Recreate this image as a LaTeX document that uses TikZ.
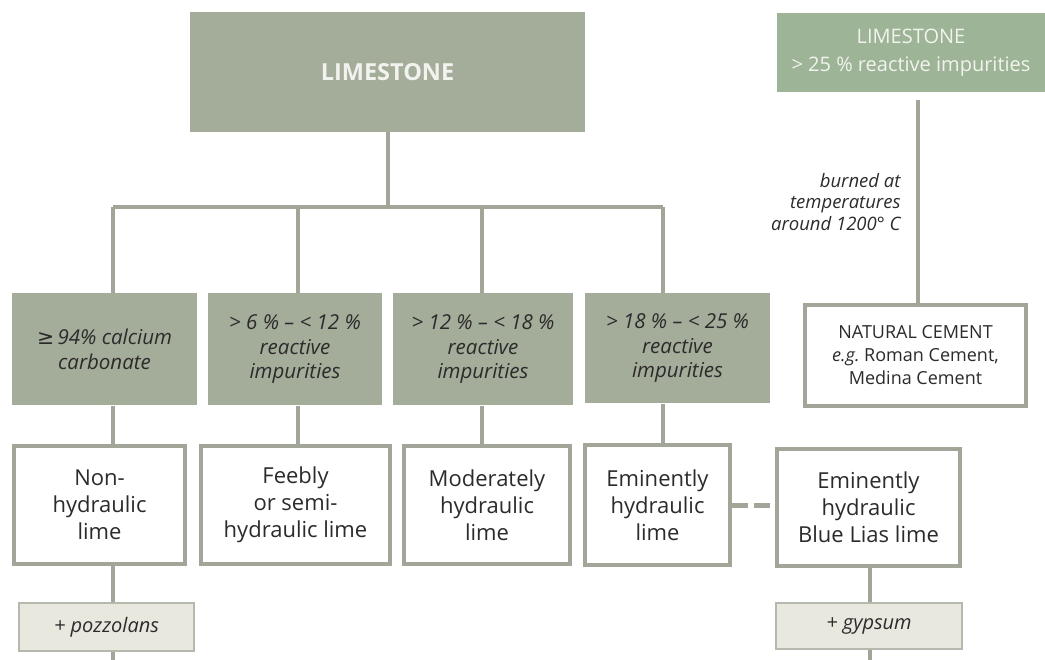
\documentclass[tikz,border=0pt]{standalone}
\usepackage{fontspec}
\setmainfont{Open Sans}
\newfontfamily\symf{DejaVu Sans}
\definecolor{boxgray}{HTML}{A4AC9A}
\definecolor{boxgreen}{HTML}{9DB497}
\definecolor{linec}{HTML}{A2A699}
\definecolor{pale}{HTML}{E8E8DF}
\definecolor{txt}{HTML}{2B2B2B}
\definecolor{lighttxt}{HTML}{F2F3EE}
\tikzset{
  conn/.style={draw=linec, line width=4pt},
  graybox/.style={rectangle, fill=boxgray, inner sep=2pt, align=center, text=txt,
    font=\fontsize{20.5}{24.5}\selectfont\itshape},
  whitebox/.style={rectangle, draw=linec, line width=4pt, fill=white, inner sep=2pt,
    align=center, text=txt, font=\fontsize{22}{27}\selectfont},
  addbox/.style={rectangle, draw=linec!80, line width=2pt, fill=pale, inner sep=2pt,
    align=center, text=txt, font=\fontsize{20}{22}\selectfont\itshape},
}
\begin{document}
\begin{tikzpicture}[x=1pt,y=-1pt]
\useasboundingbox (0,0) rectangle (1045,660);
% top
\node[rectangle, fill=boxgray, minimum width=395pt, minimum height=120pt, text=lighttxt,
  font=\fontsize{23.5}{26}\selectfont\bfseries] (top) at (387.5,72) {LIMESTONE};
\node[rectangle, fill=boxgreen, minimum width=268pt, minimum height=79pt, text=lighttxt,
  align=center, font=\fontsize{20}{28}\selectfont] (top2) at (911,53)
  {LIMESTONE\\> 25 \% reactive impurities};
% gray row
\node[graybox, minimum width=185pt, minimum height=112pt] (g1) at (104.5,349.5)
  {{\symf\itshape ≥}\,94\% calcium\\carbonate};
\node[graybox, minimum width=174pt, minimum height=112pt] (g2) at (295,349.5)
  {> 6 \% -- < 12 \%\\reactive\\impurities};
\node[graybox, minimum width=180pt, minimum height=112pt] (g3) at (483,349.5)
  {> 12 \% -- < 18 \%\\reactive\\impurities};
\node[graybox, minimum width=185pt, minimum height=110pt] (g4) at (677.5,348.5)
  {> 18 \% -- < 25 \%\\reactive\\impurities};
% white row
\node[whitebox, minimum width=171pt, minimum height=118pt] (w1) at (99.5,505)
  {Non-\\hydraulic\\lime};
\node[whitebox, minimum width=189pt, minimum height=118pt] (w2) at (295.5,505)
  {Feebly\\or semi-\\hydraulic lime};
\node[whitebox, minimum width=166pt, minimum height=118pt] (w3) at (487,505)
  {Moderately\\hydraulic\\lime};
\node[whitebox, minimum width=145pt, minimum height=120pt] (w4) at (657.5,505)
  {Eminently\\hydraulic\\lime};
\node[whitebox, minimum width=183pt, minimum height=117pt] (w5) at (868.5,507.5)
  {Eminently\\hydraulic\\Blue Lias lime};
% natural cement
\node[whitebox, minimum width=221pt, minimum height=101pt,
  font=\fontsize{18}{23}\selectfont] (nat) at (915.5,355.5)
  {NATURAL CEMENT\\{\itshape e.g.}\ Roman Cement,\\Medina Cement};
% additions
\node[addbox, minimum width=175pt, minimum height=48pt] (poz) at (106.5,627) {+ pozzolans};
\node[addbox, minimum width=186pt, minimum height=46pt] (gyp) at (869,626) {+ gypsum};
% label
\node[anchor=east, align=right, text=txt, font=\fontsize{18.5}{21.5}\selectfont\itshape]
  (burn) at (904,202) {burned at\\temperatures\\around 1200° C};
% coordinates
\coordinate (c1) at (113,207);
\coordinate (c2) at (298,207);
\coordinate (c3) at (482,207);
\coordinate (c4) at (663,207);
\coordinate (c5) at (870,660);
\coordinate (e1) at (113,660);
\coordinate (r0) at (918,100);
% connectors
\draw[conn] (c1) -- (c4);
\draw[conn] (top.south) -- (top.south |- c1);
\draw[conn] (c1) -- (c1 |- g1.north);
\draw[conn] (c2) -- (c2 |- g2.north);
\draw[conn] (c3) -- (c3 |- g3.north);
\draw[conn] (c4) -- (c4 |- g4.north);
\draw[conn] (c1 |- g1.south) -- (c1 |- w1.north);
\draw[conn] (c2 |- g2.south) -- (c2 |- w2.north);
\draw[conn] (c3 |- g3.south) -- (c3 |- w3.north);
\draw[conn] (c4 |- g4.south) -- (c4 |- w4.north);
\draw[conn] (c1 |- w1.south) -- (c1 |- poz.north);
\draw[conn] (c1 |- poz.south) -- (e1);
\draw[conn] (c5 |- w5.south) -- (c5 |- gyp.north);
\draw[conn] (c5 |- gyp.south) -- (c5);
\draw[conn] (r0) -- (r0 |- nat.north);
\draw[conn, line width=5pt, dash pattern=on 16pt off 6pt] (w4.east) -- (w4.east -| w5.west);
\end{tikzpicture}
\end{document}
